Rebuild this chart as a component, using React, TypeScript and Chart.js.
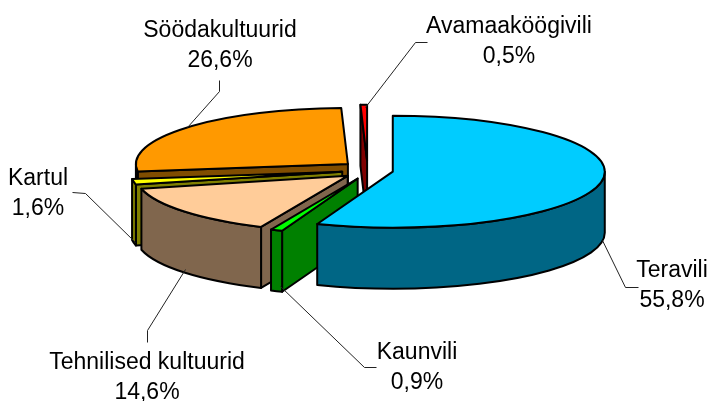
import React, { useEffect, useRef } from "react";
import { Chart, registerables } from "chart.js";

Chart.register(...registerables);

const categories = ["Teravili", "Kaunvili", "Tehnilised kultuurid", "Kartul", "Söödakultuurid", "Avamaaköögivili"];
const shares = [55.8, 0.9, 14.6, 1.6, 26.6, 0.5];
const topColors = ["#00CCFF", "#00FF00", "#FFCC99", "#FFFF00", "#FF9900", "#FF0000"];
const sideColors = ["#006685", "#008000", "#80664D", "#808000", "#804D00", "#800000"];
const paintOrder = [5, 4, 3, 2, 1, 0];

// Annotation layout: label centre x, first baseline, leader polyline
const labelX = [672, 417, 147, 38, 220, 509];
const labelY = [277, 359, 369, 185, 37, 33];
const leaders = [
  [[602, 240], [625, 287], [638, 287]],
  [[280, 286], [364, 367], [376, 367]],
  [[185, 269], [147, 330], [147, 342]],
  [[72, 192], [85, 193], [135, 242]],
  [[219, 80], [219, 91], [187, 127]],
  [[427, 42], [415, 42], [365, 107]],
];

const SQUASH = 0.264;
const DEPTH = 61;
const RADIUS = 212;
const EXPLODE_X = 25.7;
const EXPLODE_Y = 9.2;
const LINE_GAP = 30;

const pie3d = {
  id: "pie3d",
  beforeDatasetsDraw(chart: any) {
    const ctx = chart.ctx;
    const meta = chart.getDatasetMeta(0);
    ctx.save();
    ctx.lineJoin = "round";
    for (const i of paintOrder) {
      const arc = meta.data[i];
      const { x, y, startAngle: a0, endAngle: a1, outerRadius: R } = arc;
      const mid = (a0 + a1) / 2;
      const ox = Math.cos(mid) * EXPLODE_X;
      const oy = Math.sin(mid) * EXPLODE_Y;
      const cx = x + ox;
      const cy = y + oy;
      const ry = R * SQUASH;
      const pt = (a: number) => [cx + R * Math.cos(a), cy + ry * Math.sin(a)];
      ctx.lineWidth = 2;
      ctx.strokeStyle = "#000";
      ctx.fillStyle = sideColors[i];
      const radial = (a: number) => {
        const [px, py] = pt(a);
        ctx.beginPath();
        ctx.moveTo(cx, cy);
        ctx.lineTo(px, py);
        ctx.lineTo(px, py + DEPTH);
        ctx.lineTo(cx, cy + DEPTH);
        ctx.closePath();
        ctx.fill();
        ctx.stroke();
      };
      if (Math.cos(a0) < -1e-6) radial(a0);
      if (Math.cos(a1) > 1e-6) radial(a1);
      const from = Math.max(a0, 0);
      const to = Math.min(a1, Math.PI);
      if (to > from) {
        ctx.beginPath();
        ctx.ellipse(cx, cy, R, ry, 0, from, to);
        ctx.ellipse(cx, cy + DEPTH, R, ry, 0, to, from, true);
        ctx.closePath();
        ctx.fill();
        ctx.stroke();
      }
      ctx.save();
      ctx.translate(0, y);
      ctx.scale(1, SQUASH);
      ctx.translate(ox, oy / SQUASH - y);
      arc.draw(ctx);
      ctx.restore();
      ctx.beginPath();
      ctx.moveTo(cx, cy);
      ctx.ellipse(cx, cy, R, ry, 0, a0, a1);
      ctx.closePath();
      ctx.stroke();
    }
    ctx.restore();
    return false;
  },
  afterDraw(chart: any) {
    const ctx = chart.ctx;
    ctx.save();
    ctx.strokeStyle = "#222";
    ctx.lineWidth = 1;
    leaders.forEach((line) => {
      ctx.beginPath();
      line.forEach(([px, py], k) => (k ? ctx.lineTo(px + 0.5, py + 0.5) : ctx.moveTo(px + 0.5, py + 0.5)));
      ctx.stroke();
    });
    ctx.fillStyle = "#000";
    ctx.font = '23px "Liberation Sans", Arial, sans-serif';
    ctx.textAlign = "center";
    ctx.textBaseline = "alphabetic";
    categories.forEach((name, i) => {
      ctx.fillText(name, labelX[i], labelY[i]);
      ctx.fillText(shares[i].toFixed(1).replace(".", ",") + "%", labelX[i], labelY[i] + LINE_GAP);
    });
    ctx.restore();
  },
};

export default function App() {
  const ref = useRef<HTMLCanvasElement>(null);
  useEffect(() => {
    const chart = new Chart(ref.current!, {
      type: "pie",
      data: {
        labels: categories,
        datasets: [{ data: shares, backgroundColor: topColors, borderWidth: 0, offset: 0 }],
      },
      options: {
        animation: false,
        responsive: false,
        radius: RADIUS,
        rotation: 0,
        events: [],
        layout: { padding: { left: 28, right: 0, top: 0, bottom: 61 } },
        plugins: { legend: { display: false }, tooltip: { enabled: false } },
      } as any,
      plugins: [pie3d as any],
    });
    return () => chart.destroy();
  }, []);
  return (
    <canvas
      ref={ref}
      width={707}
      height={401}
      style={{ position: "absolute", left: 0, top: 0, display: "block", background: "#fff" }}
    />
  );
}
